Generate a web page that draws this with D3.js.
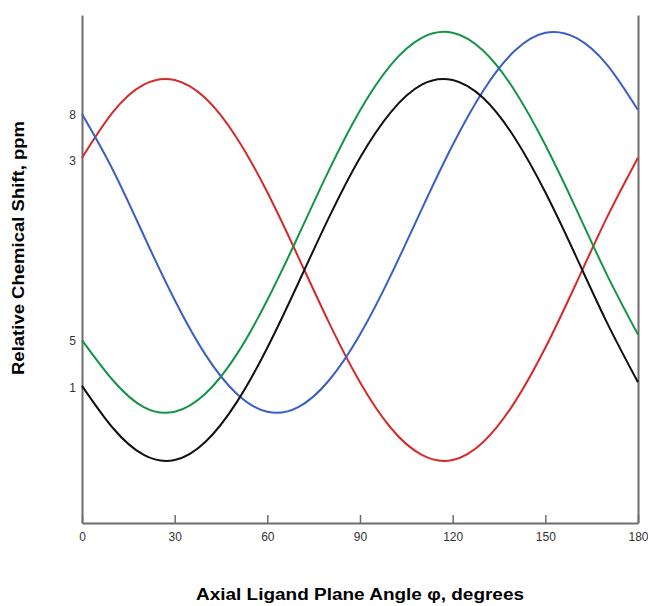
<!DOCTYPE html>
<html>
<head>
<meta charset="utf-8">
<script src="https://cdn.jsdelivr.net/npm/d3@7"></script>
<style>
  body { margin: 0; background: #fff; }
  .axis text { font-family: "Liberation Sans Narrow", "Arial Narrow", "Liberation Sans", sans-serif; font-size: 12px; fill: #333; }
  .axis path, .axis line { stroke: #6e6b6b; }
  .title { font-family: "Liberation Sans", Arial, sans-serif; font-weight: bold; font-size: 16px; fill: #000; }
</style>
</head>
<body>
<svg width="648" height="606"></svg>
<script>
// angle, degrees
var angles = [0, 10, 20, 30, 40, 50, 60, 70, 80, 90, 100, 110, 120, 130, 140, 150, 160, 170, 180];

// relative shift values (arbitrary units)
var red   = [71.9, 80.9, 86.3, 87.2, 83.6, 75.9, 65.1, 52.4, 39.4, 27.7, 18.7, 13.4, 12.4, 16.0, 23.7, 34.5, 47.2, 60.2, 71.9];
var black = [27.0, 18.7, 13.4, 12.4, 16.0, 23.7, 34.5, 47.2, 60.2, 71.9, 80.9, 86.3, 87.2, 83.6, 75.9, 65.1, 52.4, 39.4, 27.7];
var green = [36.0, 28.1, 22.8, 21.9, 25.5, 33.1, 43.9, 56.5, 69.5, 81.2, 90.2, 95.5, 96.5, 92.9, 85.2, 74.4, 61.8, 48.8, 37.1];
var blue  = [80.5, 69.5, 56.6, 43.9, 33.1, 25.5, 21.9, 22.8, 28.1, 37.1, 48.8, 61.8, 74.4, 85.2, 92.9, 96.5, 95.5, 90.2, 81.3];

// y-axis labels sit at the starting value of each curve
var yTickValues = [80.3, 71.4, 35.9, 26.6];
var yTickLabels = ["8", "3", "5", "1"];
var xTickValues = [0, 30, 60, 90, 120, 150, 180];

var series = [
  {values: red,   color: "#d42a2a"},
  {values: green, color: "#149447"},
  {values: blue,  color: "#3a5fc4"},
  {values: black, color: "#111111"}
];

var svg = d3.select("svg"),
    margin = {top: 15, right: 10, bottom: 83, left: 82},
    width = +svg.attr("width") - margin.left - margin.right,
    height = +svg.attr("height") - margin.top - margin.bottom;

var x = d3.scaleLinear().domain([0, 180]).range([0, width]),
    y = d3.scaleLinear().domain([0, 100]).range([height, 0]);

var g = svg.append("g")
    .attr("transform", "translate(" + margin.left + "," + margin.top + ")");

// x axis with inward ticks
var xAxis = g.append("g")
    .attr("class", "axis")
    .attr("transform", "translate(0," + height + ")")
    .call(d3.axisBottom(x).tickValues(xTickValues).tickSize(-8).tickSizeOuter(0).tickPadding(9));
xAxis.select(".domain").attr("stroke-width", 2);
xAxis.selectAll(".tick line").attr("stroke-width", 1.5);

// left axis, labels only
var yAxis = g.append("g")
    .attr("class", "axis")
    .call(d3.axisLeft(y).tickValues(yTickValues).tickSize(0).tickSizeOuter(0).tickPadding(6)
      .tickFormat(function(d, i) { return yTickLabels[i]; }));
yAxis.select(".domain").attr("stroke-width", 2);

// right border
g.append("g")
    .attr("class", "axis")
    .attr("transform", "translate(" + width + ",0)")
    .call(d3.axisRight(y).tickValues([]).tickSizeOuter(0))
  .select(".domain").attr("stroke-width", 2);

var line = d3.line()
    .x(function(d, i) { return x(angles[i]); })
    .y(function(d) { return y(d); })
    .curve(d3.curveNatural);

g.selectAll(".curve")
    .data(series)
    .enter().append("path")
      .attr("class", "curve")
      .attr("fill", "none")
      .attr("stroke", function(d) { return d.color; })
      .attr("stroke-width", 2)
      .attr("d", function(d) { return line(d.values); });

// axis titles
svg.append("text")
    .attr("class", "title")
    .attr("x", 360)
    .attr("y", 600)
    .attr("text-anchor", "middle")
    .attr("textLength", 328)
    .attr("lengthAdjust", "spacingAndGlyphs")
    .text("Axial Ligand Plane Angle φ, degrees");

svg.append("text")
    .attr("class", "title")
    .attr("transform", "translate(24," + 248 + ") rotate(-90)")
    .attr("text-anchor", "middle")
    .attr("textLength", 254)
    .attr("lengthAdjust", "spacingAndGlyphs")
    .text("Relative Chemical Shift, ppm");
</script>
</body>
</html>
